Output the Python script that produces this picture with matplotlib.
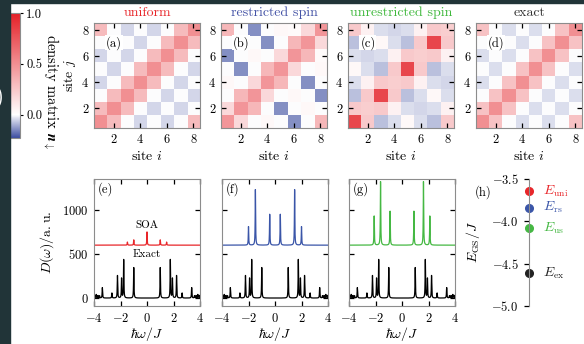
import numpy as np
import matplotlib
matplotlib.use("Agg")
import matplotlib.pyplot as plt
from matplotlib.colors import LinearSegmentedColormap, Normalize
from matplotlib.patches import Rectangle

plt.rcParams.update({
    "font.family": "serif",
    "font.serif": ["cmr10"],
    "mathtext.fontset": "cm",
    "axes.formatter.use_mathtext": True,
    "font.size": 9,
})

# ---- data: density matrices, rows j = 1..8 (bottom to top), columns i = 1..8
n_uniform = [
    [0.50, 0.30, 0.00, -0.05, 0.00, -0.05, 0.00, 0.30],
    [0.30, 0.50, 0.30, 0.00, -0.05, 0.00, -0.05, 0.00],
    [0.00, 0.30, 0.50, 0.30, 0.00, -0.05, 0.00, -0.05],
    [-0.05, 0.00, 0.30, 0.50, 0.30, 0.00, -0.05, 0.00],
    [0.00, -0.05, 0.00, 0.30, 0.50, 0.30, 0.00, -0.05],
    [-0.05, 0.00, -0.05, 0.00, 0.30, 0.50, 0.30, 0.00],
    [0.00, -0.05, 0.00, -0.05, 0.00, 0.30, 0.50, 0.30],
    [0.30, 0.00, -0.05, 0.00, -0.05, 0.00, 0.30, 0.50],
]
n_restricted = [
    [0.47, 0.17, 0.00, 0.03, 0.00, -0.14, 0.00, 0.32],
    [0.17, 0.47, 0.32, 0.00, -0.14, 0.00, 0.03, 0.00],
    [0.00, 0.32, 0.47, 0.17, 0.00, 0.03, 0.00, -0.14],
    [0.03, 0.00, 0.17, 0.47, 0.32, 0.00, -0.14, 0.00],
    [0.00, -0.14, 0.00, 0.32, 0.47, 0.17, 0.00, 0.03],
    [-0.14, 0.00, 0.03, 0.00, 0.17, 0.47, 0.32, 0.02],
    [0.00, 0.03, 0.00, -0.14, 0.00, 0.32, 0.47, 0.17],
    [0.32, 0.00, -0.14, 0.00, 0.03, 0.02, 0.17, 0.47],
]
n_unrestricted = [
    [0.82, 0.24, -0.08, -0.04, 0.03, -0.04, -0.08, 0.24],
    [0.24, 0.22, 0.24, 0.06, -0.04, -0.05, -0.04, 0.06],
    [-0.08, 0.24, 0.82, 0.24, -0.08, -0.04, 0.03, -0.04],
    [-0.04, 0.06, 0.24, 0.22, 0.24, 0.06, -0.04, -0.05],
    [0.03, -0.04, -0.08, 0.24, 0.82, 0.24, -0.08, -0.04],
    [-0.04, -0.05, -0.04, 0.06, 0.24, 0.22, 0.24, 0.06],
    [-0.08, -0.04, 0.03, -0.04, -0.08, 0.24, 0.82, 0.24],
    [0.24, 0.06, -0.04, -0.05, -0.04, 0.06, 0.24, 0.22],
]
n_exact = [
    [0.50, 0.27, 0.00, -0.04, 0.00, -0.04, 0.00, 0.27],
    [0.27, 0.50, 0.27, 0.00, -0.04, 0.00, -0.04, 0.00],
    [0.00, 0.27, 0.50, 0.27, 0.00, -0.04, 0.00, -0.04],
    [-0.04, 0.00, 0.27, 0.50, 0.27, 0.00, -0.04, 0.00],
    [0.00, -0.04, 0.00, 0.27, 0.50, 0.27, 0.00, -0.04],
    [-0.04, 0.00, -0.04, 0.00, 0.27, 0.50, 0.27, 0.00],
    [0.00, -0.04, 0.00, -0.04, 0.00, 0.27, 0.50, 0.27],
    [0.27, 0.00, -0.04, 0.00, -0.04, 0.00, 0.27, 0.50],
]
matrices = [n_uniform, n_restricted, n_unrestricted, n_exact]
titles = ["uniform", "restricted spin", "unrestricted spin", "exact"]
title_colors = ["#e8262a", "#4453a6", "#3fb83c", "#333333"]
heat_tags = ["(a)", "(b)", "(c)", "(d)"]

# ---- data: spectral peaks (position in hbar*omega/J, height in a.u.)
exact_pos = [-3.93, -3.83, -3.70, -3.58, -3.37, -2.65, -2.23, -1.92, -1.76, -1.00,
             1.00, 1.76, 1.92, 2.23, 2.65, 3.37, 3.58, 3.70, 3.83, 3.93]
exact_hgt = [30, 40, 28, 25, 120, 58, 258, 222, 435, 346,
             346, 435, 222, 258, 58, 120, 25, 28, 40, 30]
soa_pos = [-1.48, -1.00, 0.00, 1.00, 1.48]
soa_hgt = [35, 60, 150, 60, 35]
rs_pos = [-2.00, -1.48, -0.40, 0.40, 1.48, 2.00]
rs_hgt = [210, 630, 350, 350, 630, 210]
us_pos = [-2.10, -1.62, -0.90, 0.90, 1.62, 2.10]
us_hgt = [330, 720, 385, 385, 720, 330]
approx_offset = 600
approx_sets = [(soa_pos, soa_hgt, "#e8262a"), (rs_pos, rs_hgt, "#3a55a8"),
               (us_pos, us_hgt, "#45b843")]
spec_tags = ["(e)", "(f)", "(g)"]

# ---- data: ground-state energies
e_labels = [r"$E_{\rm uni}$", r"$E_{\rm rs}$", r"$E_{\rm us}$", r"$E_{\rm ex}$"]
e_values = [-3.64, -3.84, -4.08, -4.61]
e_colors = ["#e8262a", "#3a55a8", "#45b843", "#222222"]

W, H = 584, 344
fig = plt.figure(figsize=(W / 100, H / 100), dpi=100)


def px_axes(x0, y0, x1, y1):
    return fig.add_axes([x0 / W, 1 - y1 / H, (x1 - x0) / W, (y1 - y0) / H])


spine_col = "#8c8c8c"
cmap = LinearSegmentedColormap.from_list(
    "nmap", [(0.0, "#3b4ca0"), (0.23 / 1.23, "white"), (1.0, "#e41f26")])
norm = Normalize(vmin=-0.23, vmax=1.0)

# ---- top row: density matrices
heat_left = [94, 221, 348, 476]
for k, mat in enumerate(matrices):
    ax = px_axes(heat_left[k], 23, heat_left[k] + 106, 128)
    im = ax.imshow(np.array(mat), origin="lower", cmap=cmap, norm=norm,
                   extent=(0.5, 8.5, 0.5, 8.5), aspect="auto")
    ax.set_xticks([2, 4, 6, 8])
    ax.set_yticks([2, 4, 6, 8])
    ax.tick_params(direction="in", top=True, right=True, length=3.5,
                   width=0.9, pad=3.5, labelsize=9)
    for s in ax.spines.values():
        s.set_color(spine_col)
    ax.set_title(titles[k], color=title_colors[k], fontsize=10, pad=5)
    ax.set_xlabel("site $i$", fontsize=10, labelpad=3)
    if k == 0:
        ax.set_ylabel("site $j$", fontsize=10)
        ax.yaxis.set_label_coords(-0.15, 0.5)
    ax.text(2.0, 7.0, heat_tags[k], ha="center", va="center", fontsize=9,
            bbox=dict(fc="white", ec="none", pad=0.6))

# colorbar
cax = px_axes(10, 13, 20, 138)
cb = fig.colorbar(im, cax=cax, ticks=[0.0, 0.5, 1.0])
cb.ax.yaxis.set_major_formatter("{x:.1f}")
cb.ax.tick_params(length=2.5, width=0.8, pad=2, labelsize=9)
cb.outline.set_edgecolor(spine_col)
cb.set_label(r"density matrix $\boldsymbol{n}_{\downarrow}$", rotation=270,
             fontsize=10.5, va="center")
cb.ax.yaxis.set_label_coords(4.1, 0.37)

# ---- bottom row: spectra
omega = np.linspace(-4, 4, 2001)


def spectrum(pos, hgt, eta=0.018):
    s = np.zeros_like(omega)
    for p, h in zip(pos, hgt):
        s += h * eta ** 2 / ((omega - p) ** 2 + eta ** 2)
    return s


exact_curve = spectrum(exact_pos, exact_hgt)
spec_left = [94, 222, 349]
for k, (pos, hgt, col) in enumerate(approx_sets):
    ax = px_axes(spec_left[k], 179, spec_left[k] + 106, 306)
    ax.plot(omega, exact_curve, color="black", lw=0.9)
    ax.plot(omega, approx_offset + spectrum(pos, hgt), color=col, lw=0.9)
    ax.set_xlim(-4, 4)
    ax.set_ylim(-90, 1350)
    ax.set_xticks([-4, -2, 0, 2, 4])
    ax.set_yticks([0, 500, 1000])
    ax.tick_params(direction="in", top=True, right=True, length=3.5,
                   width=0.9, pad=4, labelsize=9)
    for s in ax.spines.values():
        s.set_color(spine_col)
    if k == 0:
        ax.set_ylabel(r"$D(\omega)/\mathrm{a.u.}$", fontsize=10)
        ax.yaxis.set_label_coords(-0.36, 0.5)
        ax.text(0, 830, "SOA", ha="center", va="center", fontsize=8)
        ax.text(0, 500, "Exact", ha="center", va="center", fontsize=8)
    else:
        ax.set_yticklabels([])
    ax.set_xlabel(r"$\hbar\omega/J$", fontsize=10, labelpad=0)
    ax.text(-3.75, 1230, spec_tags[k], ha="left", va="center", fontsize=9)

# ---- ground-state energies
axh = px_axes(529, 179, 584, 306)
axh.set_xlim(0, 1)
axh.set_ylim(-5.0, -3.5)
for s in ["top", "right", "bottom"]:
    axh.spines[s].set_visible(False)
axh.spines["left"].set_color(spine_col)
axh.set_xticks([])
axh.set_yticks([-5.0, -4.5, -4.0, -3.5])
axh.tick_params(length=3.5, width=0.9, pad=4, labelsize=9)
axh.patch.set_alpha(0)
for lab, val, col in zip(e_labels, e_values, e_colors):
    axh.plot(0, val, "o", color=col, ms=5.5, clip_on=False)
    axh.text(0.25, val, lab, color=col, va="center", ha="left", fontsize=10)
axh.set_ylabel(r"$E_{\rm GS}/J$", fontsize=10)
axh.yaxis.set_label_coords(-0.85, 0.5)
axh.text(-0.84, 0.9, "(h)", transform=axh.transAxes, ha="center",
         va="center", fontsize=9)

# ---- dark page margins of the crop
dark = "#213438"
fig.patches.append(Rectangle((0, 0), 10 / W, 1, transform=fig.transFigure,
                             color=dark, zorder=5))
fig.patches.append(Rectangle((0, 1 - 3 / H), 1, 3 / H, transform=fig.transFigure,
                             color=dark, zorder=5))
fig.text(4 / W, 1 - 97 / H, ")", color="white", ha="right", va="center",
         fontsize=17, zorder=6)

fig.savefig("out.png", dpi=100)
